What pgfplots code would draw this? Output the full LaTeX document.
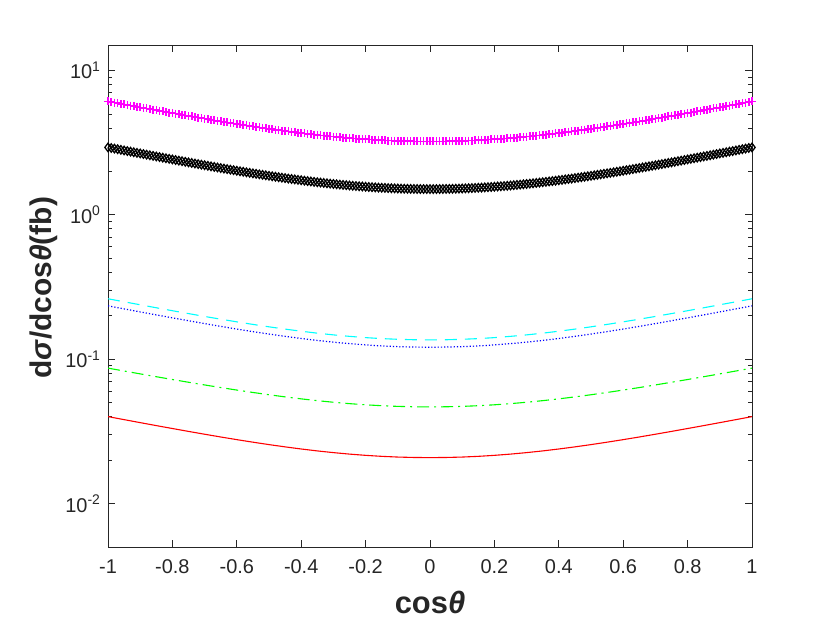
\documentclass[border=0pt]{standalone}
\usepackage{pgfplots}
\usepackage{pgfplotstable}
\pgfplotsset{compat=1.18}
\usepackage{fontspec}
\setmainfont{Liberation Sans}
\definecolor{cMag}{RGB}{255,0,255}
\definecolor{cCyan}{RGB}{0,255,255}
\definecolor{cBlue}{RGB}{0,0,255}
\definecolor{cGreen}{RGB}{0,255,0}
\definecolor{cRed}{RGB}{255,0,0}
\definecolor{cAx}{RGB}{38,38,38}

\pgfplotstableread{
x cyan blue green red
-1.00 0.2620 0.2340 0.0867 0.04000
-0.95 0.2497 0.2230 0.0828 0.03813
-0.90 0.2381 0.2125 0.0791 0.03635
-0.85 0.2270 0.2026 0.0756 0.03467
-0.80 0.2166 0.1933 0.0723 0.03309
-0.75 0.2069 0.1846 0.0692 0.03160
-0.70 0.1977 0.1764 0.0663 0.03021
-0.65 0.1892 0.1687 0.0636 0.02891
-0.60 0.1814 0.1617 0.0611 0.02771
-0.55 0.1741 0.1552 0.0588 0.02661
-0.50 0.1675 0.1493 0.0567 0.02560
-0.45 0.1615 0.1439 0.0548 0.02469
-0.40 0.1562 0.1391 0.0531 0.02387
-0.35 0.1514 0.1348 0.0516 0.02315
-0.30 0.1473 0.1312 0.0503 0.02253
-0.25 0.1439 0.1281 0.0492 0.02200
-0.20 0.1410 0.1255 0.0483 0.02157
-0.15 0.1388 0.1235 0.0476 0.02123
-0.10 0.1373 0.1221 0.0471 0.02099
-0.05 0.1363 0.1213 0.0468 0.02085
0.00 0.1360 0.1210 0.0467 0.02080
0.05 0.1363 0.1213 0.0468 0.02085
0.10 0.1373 0.1221 0.0471 0.02099
0.15 0.1388 0.1235 0.0476 0.02123
0.20 0.1410 0.1255 0.0483 0.02157
0.25 0.1439 0.1281 0.0492 0.02200
0.30 0.1473 0.1312 0.0503 0.02253
0.35 0.1514 0.1348 0.0516 0.02315
0.40 0.1562 0.1391 0.0531 0.02387
0.45 0.1615 0.1439 0.0548 0.02469
0.50 0.1675 0.1493 0.0567 0.02560
0.55 0.1741 0.1552 0.0588 0.02661
0.60 0.1814 0.1617 0.0611 0.02771
0.65 0.1892 0.1687 0.0636 0.02891
0.70 0.1977 0.1764 0.0663 0.03021
0.75 0.2069 0.1846 0.0692 0.03160
0.80 0.2166 0.1933 0.0723 0.03309
0.85 0.2270 0.2026 0.0756 0.03467
0.90 0.2381 0.2125 0.0791 0.03635
0.95 0.2497 0.2230 0.0828 0.03813
1.00 0.2620 0.2340 0.0867 0.04000
}\lines

\begin{document}
\begin{tikzpicture}
\path[use as bounding box] (0,0) rectangle (830bp,623bp);
\begin{axis}[
  scale only axis, width=644bp, height=502bp,
  at={(108bp,76bp)}, anchor=south west,
  xmin=-1, xmax=1, ymode=log, ymin=0.005, ymax=15,
  xtick={-1,-0.8,-0.6,-0.4,-0.2,0,0.2,0.4,0.6,0.8,1},
  xticklabels={-1,-0.8,-0.6,-0.4,-0.2,0,0.2,0.4,0.6,0.8,1},
  ytick={0.01,0.1,1,10},
  yticklabels={10\textsuperscript{-2},10\textsuperscript{-1},10\textsuperscript{0},10\textsuperscript{1}},
  tick align=inside, xtick pos=both, ytick pos=both,
  major tick length=7bp, minor tick length=4bp,
  axis line style={draw=cAx, line width=0.7bp},
  every tick/.style={cAx, line width=0.7bp},
  tick label style={font=\fontsize{20}{24}\selectfont, text=cAx},
  xticklabel style={yshift=-9bp},
  yticklabel style={xshift=-4bp},
  xlabel={\bfseries cos\textit{θ}},
  xlabel style={font=\fontsize{31}{36}\selectfont, text=cAx, at={(axis description cs:0.5,-0.1315)}, anchor=base},
  ylabel={\bfseries d\textit{σ}/dcos\textit{θ}(fb)},
  ylabel style={font=\fontsize{30}{36}\selectfont, text=cAx, at={(axis description cs:-0.087,0.516)}, anchor=base},
  clip=true,
]
\addplot[cMag, only marks, mark=+, mark size=4bp, line width=1.6bp] coordinates {
(-1,6.100) (-0.99,6.043) (-0.98,5.986) (-0.97,5.930) (-0.96,5.874) (-0.95,5.819) (-0.94,5.765) (-0.93,5.711) (-0.92,5.658) (-0.91,5.605)
(-0.90,5.553) (-0.89,5.501) (-0.88,5.450) (-0.87,5.400) (-0.86,5.350) (-0.85,5.301) (-0.84,5.252) (-0.83,5.204) (-0.82,5.157) (-0.81,5.110)
(-0.80,5.063) (-0.79,5.017) (-0.78,4.972) (-0.77,4.928) (-0.76,4.883) (-0.75,4.840) (-0.74,4.797) (-0.73,4.755) (-0.72,4.713) (-0.71,4.672)
(-0.70,4.631) (-0.69,4.591) (-0.68,4.552) (-0.67,4.513) (-0.66,4.475) (-0.65,4.437) (-0.64,4.400) (-0.63,4.363) (-0.62,4.327) (-0.61,4.292)
(-0.60,4.257) (-0.59,4.223) (-0.58,4.189) (-0.57,4.156) (-0.56,4.123) (-0.55,4.091) (-0.54,4.060) (-0.53,4.029) (-0.52,3.999) (-0.51,3.969)
(-0.50,3.940) (-0.49,3.912) (-0.48,3.884) (-0.47,3.856) (-0.46,3.829) (-0.45,3.803) (-0.44,3.778) (-0.43,3.753) (-0.42,3.728) (-0.41,3.704)
(-0.40,3.681) (-0.39,3.658) (-0.38,3.636) (-0.37,3.614) (-0.36,3.593) (-0.35,3.573) (-0.34,3.553) (-0.33,3.534) (-0.32,3.515) (-0.31,3.497)
(-0.30,3.479) (-0.29,3.462) (-0.28,3.446) (-0.27,3.430) (-0.26,3.415) (-0.25,3.400) (-0.24,3.386) (-0.23,3.372) (-0.22,3.359) (-0.21,3.347)
(-0.20,3.335) (-0.19,3.324) (-0.18,3.313) (-0.17,3.303) (-0.16,3.294) (-0.15,3.285) (-0.14,3.276) (-0.13,3.269) (-0.12,3.261) (-0.11,3.255)
(-0.10,3.249) (-0.09,3.243) (-0.08,3.238) (-0.07,3.234) (-0.06,3.230) (-0.05,3.227) (-0.04,3.225) (-0.03,3.223) (-0.02,3.221) (-0.01,3.220)
(0,3.220)
(0.01,3.220) (0.02,3.221) (0.03,3.223) (0.04,3.225) (0.05,3.227) (0.06,3.230) (0.07,3.234) (0.08,3.238) (0.09,3.243) (0.10,3.249)
(0.11,3.255) (0.12,3.261) (0.13,3.269) (0.14,3.276) (0.15,3.285) (0.16,3.294) (0.17,3.303) (0.18,3.313) (0.19,3.324) (0.20,3.335)
(0.21,3.347) (0.22,3.359) (0.23,3.372) (0.24,3.386) (0.25,3.400) (0.26,3.415) (0.27,3.430) (0.28,3.446) (0.29,3.462) (0.30,3.479)
(0.31,3.497) (0.32,3.515) (0.33,3.534) (0.34,3.553) (0.35,3.573) (0.36,3.593) (0.37,3.614) (0.38,3.636) (0.39,3.658) (0.40,3.681)
(0.41,3.704) (0.42,3.728) (0.43,3.753) (0.44,3.778) (0.45,3.803) (0.46,3.829) (0.47,3.856) (0.48,3.884) (0.49,3.912) (0.50,3.940)
(0.51,3.969) (0.52,3.999) (0.53,4.029) (0.54,4.060) (0.55,4.091) (0.56,4.123) (0.57,4.156) (0.58,4.189) (0.59,4.223) (0.60,4.257)
(0.61,4.292) (0.62,4.327) (0.63,4.363) (0.64,4.400) (0.65,4.437) (0.66,4.475) (0.67,4.513) (0.68,4.552) (0.69,4.591) (0.70,4.631)
(0.71,4.672) (0.72,4.713) (0.73,4.755) (0.74,4.797) (0.75,4.840) (0.76,4.883) (0.77,4.928) (0.78,4.972) (0.79,5.017) (0.80,5.063)
(0.81,5.110) (0.82,5.157) (0.83,5.204) (0.84,5.252) (0.85,5.301) (0.86,5.350) (0.87,5.400) (0.88,5.450) (0.89,5.501) (0.90,5.553)
(0.91,5.605) (0.92,5.658) (0.93,5.711) (0.94,5.765) (0.95,5.819) (0.96,5.874) (0.97,5.930) (0.98,5.986) (0.99,6.043) (1,6.100)
};
\addplot[black, only marks, mark=diamond, mark size=4.2bp, line width=1.3bp] coordinates {
(-1,2.930) (-0.99,2.902) (-0.98,2.874) (-0.97,2.846) (-0.96,2.818) (-0.95,2.791) (-0.94,2.764) (-0.93,2.738) (-0.92,2.711) (-0.91,2.685)
(-0.90,2.660) (-0.89,2.634) (-0.88,2.609) (-0.87,2.584) (-0.86,2.559) (-0.85,2.535) (-0.84,2.511) (-0.83,2.487) (-0.82,2.464) (-0.81,2.441)
(-0.80,2.418) (-0.79,2.395) (-0.78,2.373) (-0.77,2.351) (-0.76,2.329) (-0.75,2.307) (-0.74,2.286) (-0.73,2.265) (-0.72,2.245) (-0.71,2.224)
(-0.70,2.204) (-0.69,2.185) (-0.68,2.165) (-0.67,2.146) (-0.66,2.127) (-0.65,2.108) (-0.64,2.090) (-0.63,2.072) (-0.62,2.054) (-0.61,2.037)
(-0.60,2.019) (-0.59,2.002) (-0.58,1.986) (-0.57,1.969) (-0.56,1.953) (-0.55,1.937) (-0.54,1.922) (-0.53,1.907) (-0.52,1.892) (-0.51,1.877)
(-0.50,1.863) (-0.49,1.849) (-0.48,1.835) (-0.47,1.821) (-0.46,1.808) (-0.45,1.795) (-0.44,1.782) (-0.43,1.770) (-0.42,1.758) (-0.41,1.746)
(-0.40,1.735) (-0.39,1.723) (-0.38,1.712) (-0.37,1.702) (-0.36,1.691) (-0.35,1.681) (-0.34,1.672) (-0.33,1.662) (-0.32,1.653) (-0.31,1.644)
(-0.30,1.635) (-0.29,1.627) (-0.28,1.619) (-0.27,1.611) (-0.26,1.603) (-0.25,1.596) (-0.24,1.589) (-0.23,1.582) (-0.22,1.576) (-0.21,1.570)
(-0.20,1.564) (-0.19,1.558) (-0.18,1.553) (-0.17,1.548) (-0.16,1.543) (-0.15,1.539) (-0.14,1.535) (-0.13,1.531) (-0.12,1.527) (-0.11,1.524)
(-0.10,1.521) (-0.09,1.518) (-0.08,1.516) (-0.07,1.514) (-0.06,1.512) (-0.05,1.511) (-0.04,1.509) (-0.03,1.508) (-0.02,1.508) (-0.01,1.507)
(0,1.507)
(0.01,1.507) (0.02,1.508) (0.03,1.508) (0.04,1.509) (0.05,1.511) (0.06,1.512) (0.07,1.514) (0.08,1.516) (0.09,1.518) (0.10,1.521)
(0.11,1.524) (0.12,1.527) (0.13,1.531) (0.14,1.535) (0.15,1.539) (0.16,1.543) (0.17,1.548) (0.18,1.553) (0.19,1.558) (0.20,1.564)
(0.21,1.570) (0.22,1.576) (0.23,1.582) (0.24,1.589) (0.25,1.596) (0.26,1.603) (0.27,1.611) (0.28,1.619) (0.29,1.627) (0.30,1.635)
(0.31,1.644) (0.32,1.653) (0.33,1.662) (0.34,1.672) (0.35,1.681) (0.36,1.691) (0.37,1.702) (0.38,1.712) (0.39,1.723) (0.40,1.735)
(0.41,1.746) (0.42,1.758) (0.43,1.770) (0.44,1.782) (0.45,1.795) (0.46,1.808) (0.47,1.821) (0.48,1.835) (0.49,1.849) (0.50,1.863)
(0.51,1.877) (0.52,1.892) (0.53,1.907) (0.54,1.922) (0.55,1.937) (0.56,1.953) (0.57,1.969) (0.58,1.986) (0.59,2.002) (0.60,2.019)
(0.61,2.037) (0.62,2.054) (0.63,2.072) (0.64,2.090) (0.65,2.108) (0.66,2.127) (0.67,2.146) (0.68,2.165) (0.69,2.185) (0.70,2.204)
(0.71,2.224) (0.72,2.245) (0.73,2.265) (0.74,2.286) (0.75,2.307) (0.76,2.329) (0.77,2.351) (0.78,2.373) (0.79,2.395) (0.80,2.418)
(0.81,2.441) (0.82,2.464) (0.83,2.487) (0.84,2.511) (0.85,2.535) (0.86,2.559) (0.87,2.584) (0.88,2.609) (0.89,2.634) (0.90,2.660)
(0.91,2.685) (0.92,2.711) (0.93,2.738) (0.94,2.764) (0.95,2.791) (0.96,2.818) (0.97,2.846) (0.98,2.874) (0.99,2.902) (1,2.930)
};
\addplot[cCyan, no markers, line width=1.1bp, dash pattern=on 12bp off 8bp] table[x=x, y=cyan] {\lines};
\addplot[cBlue, no markers, line width=1.2bp, dash pattern=on 1.2bp off 2bp] table[x=x, y=blue] {\lines};
\addplot[cGreen, no markers, line width=1.1bp, dash pattern=on 12bp off 5bp on 2bp off 5bp] table[x=x, y=green] {\lines};
\addplot[cRed, no markers, line width=1.1bp] table[x=x, y=red] {\lines};
\end{axis}
\end{tikzpicture}
\end{document}
